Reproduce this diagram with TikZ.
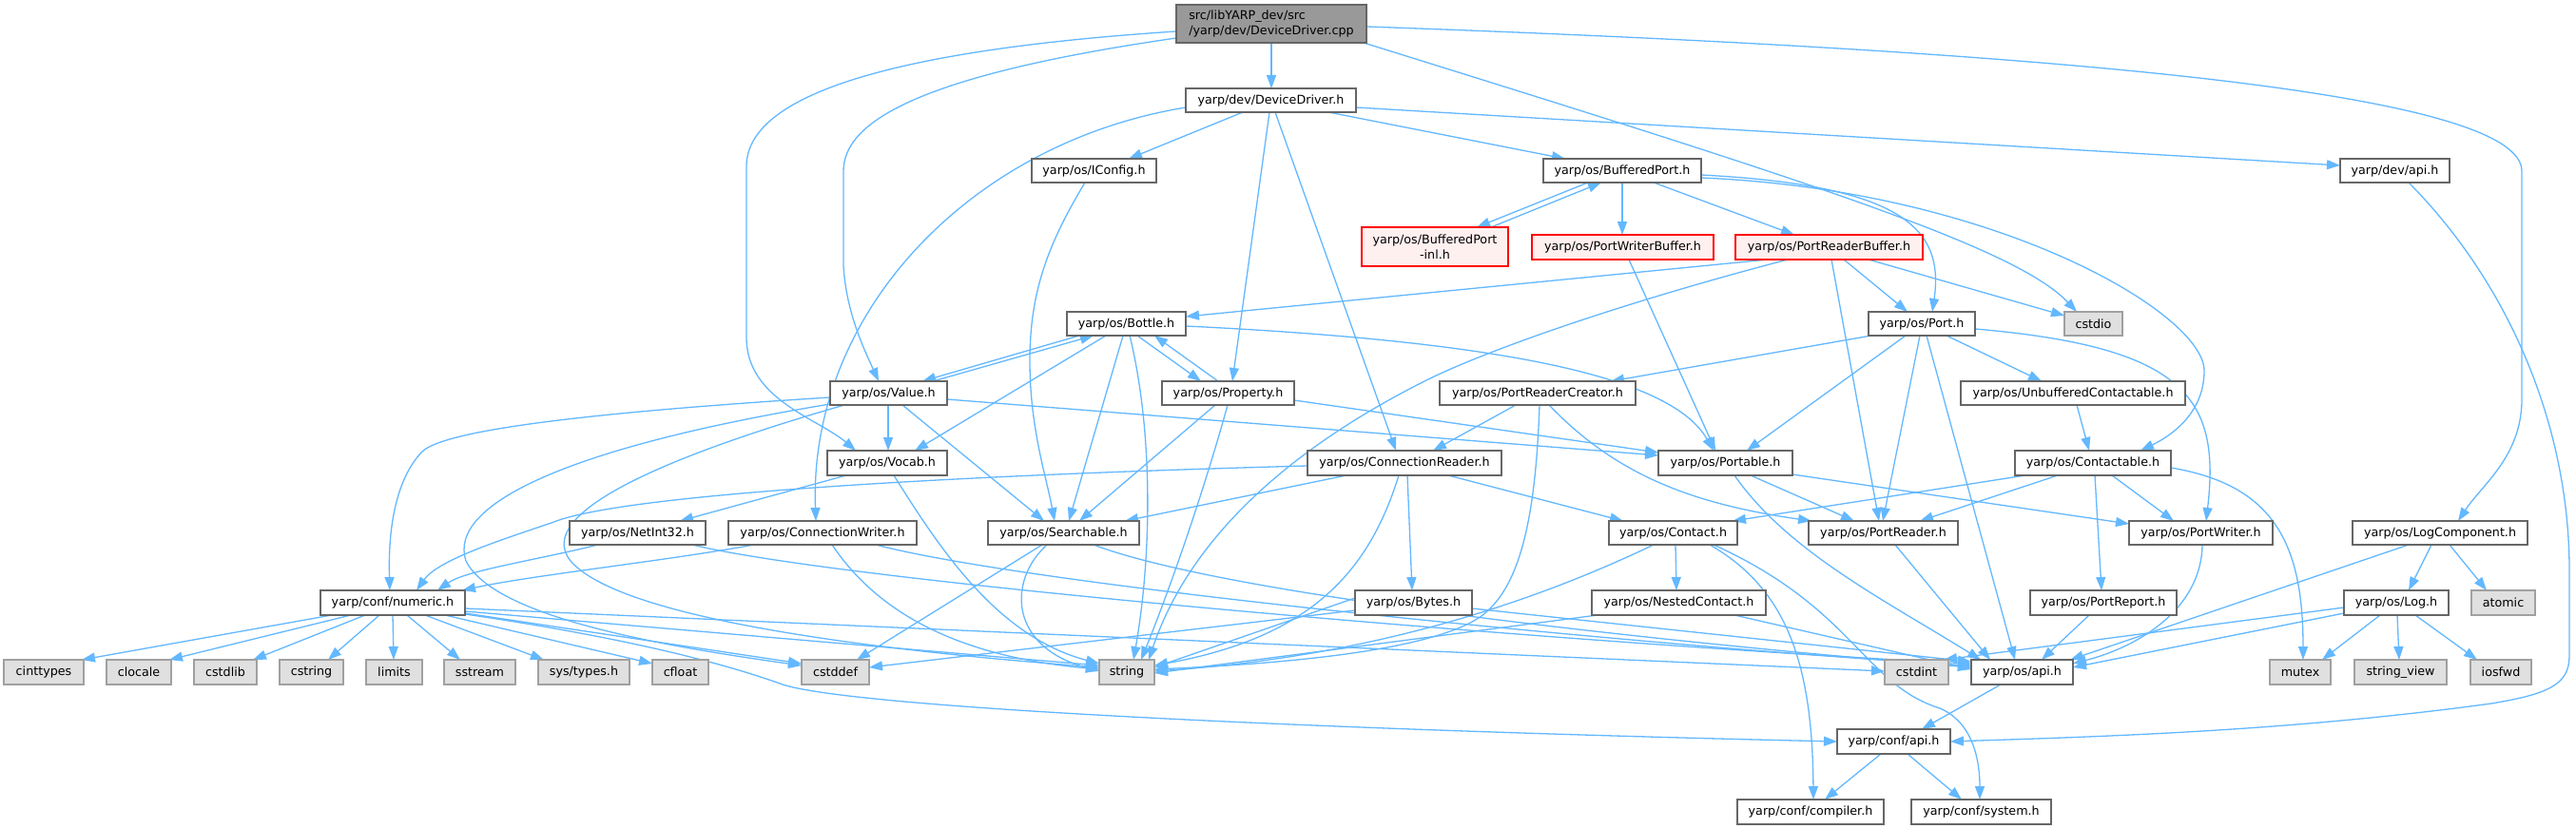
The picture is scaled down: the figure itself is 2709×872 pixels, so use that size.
\documentclass[tikz,border=0pt]{standalone}
\usepackage{fontspec}
\newfontfamily\djv{DejaVu Sans}
\usetikzlibrary{arrows.meta}
\definecolor{edgec}{HTML}{63B8FF}
\definecolor{bordc}{HTML}{666666}
\definecolor{extb}{HTML}{A0A0A0}
\definecolor{extf}{HTML}{E0E0E0}
\definecolor{mainf}{HTML}{999999}
\definecolor{trf}{HTML}{FFF0F0}
\pgfdeclarelayer{bg}
\pgfsetlayers{bg,main}
\tikzset{
  box/.style={draw=bordc, line width=1.5pt, fill=white, inner sep=0pt, outer sep=0pt,
    font={\djv\fontsize{12.7}{15.5}\selectfont}, text=black},
  extbox/.style={box, draw=extb, fill=extf},
  truncbox/.style={box, draw=red, fill=trf, align=center},
  mainbox/.style={box, fill=mainf, align=left},
  dep/.style={draw=edgec, line width=1.3pt, -{Triangle[length=14pt,width=10pt]}}
}
\newcommand\nd[7]{\node[#2,minimum width=#5pt,minimum height=#6pt] (#1) at (#3,#4) {#7};}
\begin{document}
\begin{tikzpicture}[x=1pt,y=-1pt]
\useasboundingbox (0,0) rectangle (2709,872);
% nodes
\nd{main}{mainbox}{1337}{25}{200}{40}{src/libYARP\_dev/src\\/yarp/dev/DeviceDriver.cpp}
\nd{ddrv}{box}{1336.5}{105.5}{179}{25}{yarp/dev/DeviceDriver.h}
\nd{iconfig}{box}{1150.5}{179.5}{131}{25}{yarp/os/IConfig.h}
\nd{bport}{box}{1706}{179.5}{166}{25}{yarp/os/BufferedPort.h}
\nd{devapi}{box}{2518.5}{179.5}{115}{25}{yarp/dev/api.h}
\nd{bpinl}{truncbox}{1509}{259.5}{154}{41}{yarp/os/BufferedPort\\-inl.h}
\nd{pwbuf}{truncbox}{1706.5}{260}{191}{26}{yarp/os/PortWriterBuffer.h}
\nd{prbuf}{truncbox}{1923.5}{260}{197}{26}{yarp/os/PortReaderBuffer.h}
\nd{bottle}{box}{1184.5}{340.5}{125}{25}{yarp/os/Bottle.h}
\nd{port}{box}{2021}{340.5}{112}{25}{yarp/os/Port.h}
\nd{cstdio}{extbox}{2201.5}{340.5}{61}{25}{cstdio}
\nd{value}{box}{934.5}{413.5}{123}{25}{yarp/os/Value.h}
\nd{property}{box}{1291.5}{413.5}{139}{25}{yarp/os/Property.h}
\nd{prcreator}{box}{1617}{413.5}{206}{25}{yarp/os/PortReaderCreator.h}
\nd{unbuf}{box}{2180}{413.5}{236}{25}{yarp/os/UnbufferedContactable.h}
\nd{vocab}{box}{933}{487}{126}{26}{yarp/os/Vocab.h}
\nd{connreader}{box}{1477}{487}{204}{26}{yarp/os/ConnectionReader.h}
\nd{portable}{box}{1814.5}{487}{141}{26}{yarp/os/Portable.h}
\nd{contactable}{box}{2201}{487}{164}{26}{yarp/os/Contactable.h}
\nd{netint}{box}{670.5}{560.5}{143}{25}{yarp/os/NetInt32.h}
\nd{connwriter}{box}{865}{560.5}{198}{25}{yarp/os/ConnectionWriter.h}
\nd{searchable}{box}{1118.5}{560.5}{159}{25}{yarp/os/Searchable.h}
\nd{contact}{box}{1759.5}{560.5}{135}{25}{yarp/os/Contact.h}
\nd{portreader}{box}{1980.5}{560.5}{157}{25}{yarp/os/PortReader.h}
\nd{portwriter}{box}{2314.5}{560.5}{151}{25}{yarp/os/PortWriter.h}
\nd{logcomp}{box}{2566}{560.5}{184}{25}{yarp/os/LogComponent.h}
\nd{numeric}{box}{413}{634}{152}{26}{yarp/conf/numeric.h}
\nd{bytes}{box}{1486.5}{634}{123}{26}{yarp/os/Bytes.h}
\nd{nested}{box}{1765.5}{634}{183}{26}{yarp/os/NestedContact.h}
\nd{portreport}{box}{2212}{634}{154}{26}{yarp/os/PortReport.h}
\nd{log}{box}{2520}{634}{110}{26}{yarp/os/Log.h}
\nd{atomic}{extbox}{2632.5}{634}{67}{26}{atomic}
\nd{cinttypes}{extbox}{46}{707}{84}{26}{cinttypes}
\nd{clocale}{extbox}{146}{707}{68}{26}{clocale}
\nd{cstdlib}{extbox}{237}{707}{66}{26}{cstdlib}
\nd{cstring}{extbox}{327.5}{707}{67}{26}{cstring}
\nd{limits}{extbox}{414.5}{707}{59}{26}{limits}
\nd{sstream}{extbox}{504.5}{707}{75}{26}{sstream}
\nd{systypes}{extbox}{614}{707}{96}{26}{sys/types.h}
\nd{cfloat}{extbox}{715.5}{707}{59}{26}{cfloat}
\nd{cstddef}{extbox}{878.5}{707}{71}{26}{cstddef}
\nd{string}{extbox}{1185}{707}{58}{26}{string}
\nd{cstdint}{extbox}{2015.5}{707}{67}{26}{cstdint}
\nd{osapi}{box}{2126.5}{707}{107}{26}{yarp/os/api.h}
\nd{mutex}{extbox}{2419}{707}{64}{26}{mutex}
\nd{strview}{extbox}{2524.5}{707}{97}{26}{string\_view}
\nd{iosfwd}{extbox}{2630}{707}{64}{26}{iosfwd}
\nd{confapi}{box}{1991.5}{780}{119}{26}{yarp/conf/api.h}
\nd{compiler}{box}{1904}{854}{154}{26}{yarp/conf/compiler.h}
\nd{system}{box}{2083.5}{854}{147}{26}{yarp/conf/system.h}
% edges
\begin{pgfonlayer}{bg}
\fill[white] (0,0) rectangle (2709,872);
\draw[dep] (1337,0 |- main.south) -- (1337,0 |- ddrv.north);
\draw[dep] (main.west |- 0,40) .. controls (960,80) and (887,130) .. (887,180) -- (887,280) .. controls (890,330) and (910,370) .. (924,0 |- value.north);
\draw[dep] (main.west |- 0,33) .. controls (900,55) and (785,110) .. (785,175) -- (785,355) .. controls (785,420) and (860,440) .. (900,0 |- vocab.north);
\draw[dep] (1434,0 |- main.south) .. controls (1900,190) and (2120,260) .. (2184,0 |- cstdio.north);
\draw[dep] (main.east |- 0,28) .. controls (2200,55) and (2652,100) .. (2652,180) -- (2652,420) .. controls (2652,480) and (2610,510) .. (2585,0 |- logcomp.north);
\draw[dep] (1307,0 |- ddrv.south) -- (1187,0 |- iconfig.north);
\draw[dep] (1397,0 |- ddrv.south) -- (1646,0 |- bport.north);
\draw[dep] (ddrv.east |- 0,113) -- (devapi.west |- 0,174);
\draw[dep] (1335,0 |- ddrv.south) -- (1296,0 |- property.north);
\draw[dep] (1341,0 |- ddrv.south) -- (1468,0 |- connreader.north);
\draw[dep] (ddrv.west |- 0,113) .. controls (1020,150) and (850,330) .. (858,0 |- connwriter.north);
\draw[dep] (1141,0 |- iconfig.south) .. controls (1100,260) and (1083,310) .. (1083,380) .. controls (1083,450) and (1100,500) .. (1109,0 |- searchable.north);
\draw[dep] (1670,0 |- bport.south) -- (1553,0 |- bpinl.north);
\draw[dep] (1568,0 |- bpinl.north) -- (1684,0 |- bport.south);
\draw[dep] (1706,0 |- bport.south) -- (1706,0 |- pwbuf.north);
\draw[dep] (1739,0 |- bport.south) -- (1887,0 |- prbuf.north);
\draw[dep] (bport.east |- 0,184) .. controls (2000,195) and (2045,240) .. (2032,0 |- port.north);
\draw[dep] (bport.east |- 0,187) .. controls (2100,200) and (2318,330) .. (2318,390) .. controls (2318,430) and (2290,455) .. (2251,0 |- contactable.north);
\draw[dep] (1859,0 |- prbuf.south) -- (bottle.east |- 0,333);
\draw[dep] (1880,0 |- prbuf.south) .. controls (1700,320) and (1560,370) .. (1500,400) .. controls (1400,450) and (1260,540) .. (1208,0 |- string.north);
\draw[dep] (1926,0 |- prbuf.south) -- (1976,0 |- portreader.north);
\draw[dep] (1939,0 |- prbuf.south) -- (2006,0 |- port.north);
\draw[dep] (1965,0 |- prbuf.south) -- (cstdio.west |- 0,332);
\draw[dep] (1713,0 |- pwbuf.south) -- (1804,0 |- portable.north);
\draw[dep] (1135,0 |- bottle.south) -- (970,0 |- value.north);
\draw[dep] (981,0 |- value.north) -- (1150,0 |- bottle.south);
\draw[dep] (1163,0 |- bottle.south) -- (962,0 |- vocab.north);
\draw[dep] (1181,0 |- bottle.south) -- (1124,0 |- searchable.north);
\draw[dep] (1188,0 |- bottle.south) .. controls (1212,450) and (1212,580) .. (1192,0 |- string.north);
\draw[dep] (1196,0 |- bottle.south) -- (1263,0 |- property.north);
\draw[dep] (1281,0 |- property.north) -- (1214,0 |- bottle.south);
\draw[dep] (bottle.east |- 0,343) .. controls (1600,360) and (1760,400) .. (1802,0 |- portable.north);
\draw[dep] (934,0 |- value.south) -- (934,0 |- vocab.north);
\draw[dep] (949,0 |- value.south) -- (1098,0 |- searchable.north);
\draw[dep] (value.east |- 0,420) -- (portable.west |- 0,479);
\draw[dep] (value.west |- 0,418) .. controls (650,432) and (470,450) .. (444,475) .. controls (415,505) and (408,560) .. (410,0 |- numeric.north);
\draw[dep] (value.west |- 0,425) .. controls (600,470) and (470,530) .. (490,590) .. controls (520,650) and (700,680) .. (cstddef.west |- 0,700);
\draw[dep] (888,0 |- value.south) .. controls (700,480) and (560,540) .. (600,590) .. controls (660,660) and (1000,690) .. (string.west |- 0,702);
\draw[dep] (890,0 |- vocab.south) -- (715,0 |- netint.north);
\draw[dep] (940,0 |- vocab.south) .. controls (990,580) and (1050,670) .. (string.west |- 0,698);
\draw[dep] (629,0 |- netint.south) .. controls (560,590) and (490,600) .. (460,0 |- numeric.north);
\draw[dep] (728,0 |- netint.south) .. controls (900,615) and (1700,680) .. (osapi.west |- 0,698);
\draw[dep] (793,0 |- connwriter.south) .. controls (700,590) and (560,605) .. (486,0 |- numeric.north);
\draw[dep] (875,0 |- connwriter.south) .. controls (920,640) and (1000,690) .. (string.west |- 0,704);
\draw[dep] (921,0 |- connwriter.south) .. controls (1100,620) and (1800,685) .. (osapi.west |- 0,700);
\draw[dep] (1096,0 |- searchable.south) -- (901,0 |- cstddef.north);
\draw[dep] (1101,0 |- searchable.south) .. controls (1060,610) and (1060,680) .. (string.west |- 0,706);
\draw[dep] (1150,0 |- searchable.south) .. controls (1300,630) and (1800,680) .. (osapi.west |- 0,702);
\draw[dep] (1278,0 |- property.south) -- (1135,0 |- searchable.north);
\draw[dep] (1291,0 |- property.south) .. controls (1265,520) and (1230,620) .. (1200,0 |- string.north);
\draw[dep] (property.east |- 0,421) -- (portable.west |- 0,476);
\draw[dep] (1594,0 |- prcreator.south) -- (1507,0 |- connreader.north);
\draw[dep] (1629,0 |- prcreator.south) .. controls (1700,500) and (1780,530) .. (1905,0 |- portreader.north);
\draw[dep] (1619,0 |- prcreator.south) .. controls (1615,540) and (1600,620) .. (1555,650) .. controls (1500,685) and (1350,698) .. (string.east |- 0,704);
\draw[dep] (1416,0 |- connreader.south) -- (1183,0 |- searchable.north);
\draw[dep] (connreader.west |- 0,490) .. controls (1000,500) and (650,520) .. (580,550) .. controls (520,570) and (460,590) .. (438,0 |- numeric.north);
\draw[dep] (1480,0 |- connreader.south) -- (1485,0 |- bytes.north);
\draw[dep] (1471,0 |- connreader.south) .. controls (1440,600) and (1380,670) .. (string.east |- 0,700);
\draw[dep] (1523,0 |- connreader.south) -- (1707,0 |- contact.north);
\draw[dep] (1968,0 |- port.south) -- (1694,0 |- prcreator.north);
\draw[dep] (2004,0 |- port.south) -- (1837,0 |- portable.north);
\draw[dep] (2019,0 |- port.south) -- (1980,0 |- portreader.north);
\draw[dep] (2026,0 |- port.south) -- (2119,0 |- osapi.north);
\draw[dep] (2047,0 |- port.south) -- (2147,0 |- unbuf.north);
\draw[dep] (port.east |- 0,346) .. controls (2300,365) and (2335,420) .. (2320,0 |- portwriter.north);
\draw[dep] (2184,0 |- unbuf.south) -- (2197,0 |- contactable.north);
\draw[dep] (1841,0 |- portable.south) -- (1950,0 |- portreader.north);
\draw[dep] (portable.east |- 0,499) -- (portwriter.west |- 0,551);
\draw[dep] (1824,0 |- portable.south) .. controls (1880,580) and (1980,630) .. (2083,0 |- osapi.north);
\draw[dep] (2130,0 |- contactable.south) -- (1822,0 |- contact.north);
\draw[dep] (2164,0 |- contactable.south) -- (2019,0 |- portreader.north);
\draw[dep] (2221,0 |- contactable.south) -- (2286,0 |- portwriter.north);
\draw[dep] (2203,0 |- contactable.south) -- (2210,0 |- portreport.north);
\draw[dep] (contactable.east |- 0,492) .. controls (2390,510) and (2422,570) .. (2422,0 |- mutex.north);
\draw[dep] (1739,0 |- contact.south) .. controls (1620,630) and (1450,690) .. (string.east |- 0,706);
\draw[dep] (1762,0 |- contact.south) -- (1763,0 |- nested.north);
\draw[dep] (1798,0 |- contact.south) .. controls (1880,620) and (1906,700) .. (1907,0 |- compiler.north);
\draw[dep] (1802,0 |- contact.south) .. controls (1950,640) and (1960,720) .. (2040,745) .. controls (2075,760) and (2082,800) .. (2082,0 |- system.north);
\draw[dep] (1680,0 |- nested.south) -- (string.east |- 0,708);
\draw[dep] (1824,0 |- nested.south) -- (osapi.west |- 0,704);
\draw[dep] (bytes.west |- 0,642) -- (cstddef.east |- 0,702);
\draw[dep] (bytes.west |- 0,629) -- (string.east |- 0,702);
\draw[dep] (bytes.east |- 0,640) -- (osapi.west |- 0,696);
\draw[dep] (1993,0 |- portreader.south) -- (2093,0 |- osapi.north);
\draw[dep] (2316,0 |- portwriter.south) .. controls (2315,640) and (2250,680) .. (osapi.east |- 0,698);
\draw[dep] (2197,0 |- portreport.south) -- (2147,0 |- osapi.north);
\draw[dep] (2533,0 |- logcomp.south) -- (2177,0 |- osapi.north);
\draw[dep] (2557,0 |- logcomp.south) -- (2533,0 |- log.north);
\draw[dep] (2576,0 |- logcomp.south) -- (2615,0 |- atomic.north);
\draw[dep] (2503,0 |- log.south) -- (2442,0 |- mutex.north);
\draw[dep] (2521,0 |- log.south) -- (2523,0 |- strview.north);
\draw[dep] (2540,0 |- log.south) -- (2605,0 |- iosfwd.north);
\draw[dep] (log.west |- 0,645) -- (osapi.east |- 0,702);
\draw[dep] (log.west |- 0,639) -- (2044,0 |- cstdint.north);
\draw[dep] (349,0 |- numeric.south) -- (86,0 |- cinttypes.north);
\draw[dep] (369,0 |- numeric.south) -- (178,0 |- clocale.north);
\draw[dep] (384,0 |- numeric.south) -- (266,0 |- cstdlib.north);
\draw[dep] (399,0 |- numeric.south) -- (345,0 |- cstring.north);
\draw[dep] (413,0 |- numeric.south) -- (414,0 |- limits.north);
\draw[dep] (428,0 |- numeric.south) -- (484,0 |- sstream.north);
\draw[dep] (447,0 |- numeric.south) -- (572,0 |- systypes.north);
\draw[dep] (468,0 |- numeric.south) -- (cfloat.west |- 0,698);
\draw[dep] (numeric.east |- 0,645) -- (cstddef.west |- 0,698);
\draw[dep] (numeric.east |- 0,643) -- (string.west |- 0,700);
\draw[dep] (numeric.east |- 0,640) -- (cstdint.west |- 0,706);
\draw[dep] (numeric.east |- 0,646) .. controls (620,665) and (740,690) .. (823,720) .. controls (900,745) and (1400,768) .. (confapi.west |- 0,780);
\draw[dep] (2104,0 |- osapi.south) -- (2021,0 |- confapi.north);
\draw[dep] (2533,0 |- devapi.south) .. controls (2640,300) and (2702,450) .. (2702,600) -- (2702,690) .. controls (2702,720) and (2680,730) .. (2620,740) .. controls (2400,770) and (2200,775) .. (confapi.east |- 0,780);
\draw[dep] (1978,0 |- confapi.south) -- (1919,0 |- compiler.north);
\draw[dep] (2006,0 |- confapi.south) -- (2063,0 |- system.north);
\end{pgfonlayer}
\end{tikzpicture}
\end{document}
